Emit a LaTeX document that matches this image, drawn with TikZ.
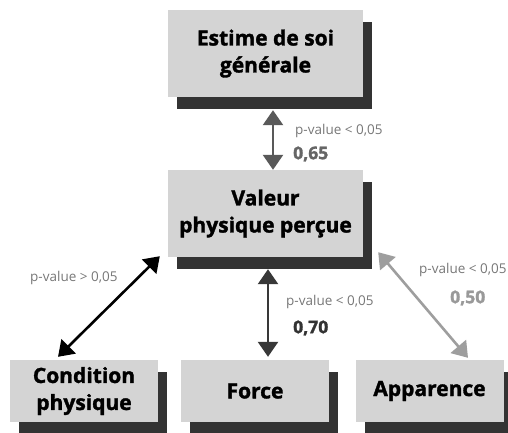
\documentclass[tikz,border=0pt]{standalone}
\usepackage{fontspec}
\setmainfont{Open Sans}[BoldFeatures={FakeBold=1.6}]
\usetikzlibrary{arrows.meta, positioning, shadows}
\definecolor{boxgray}{HTML}{D4D4D4}
\definecolor{shadowgray}{HTML}{333333}
\definecolor{labelgray}{HTML}{777777}

\begin{document}
\begin{tikzpicture}[
x=1pt, y=-1pt,
block/.style={rectangle, fill=boxgray, align=center, font=\fontsize{21}{27}\selectfont\bfseries, inner sep=0pt,
  drop shadow={shadow xshift=9pt, shadow yshift=-12pt, opacity=1, fill=shadowgray}},
bigblock/.style={block, minimum width=195pt, minimum height=87pt},
smallblock/.style={block, minimum width=148pt, minimum height=62pt},
link/.style={line width=2.6pt, {Triangle[width=20pt,length=15pt]}-{Triangle[width=20pt,length=15pt]}},
pval/.style={anchor=west, inner sep=0pt, text=labelgray, font=\fontsize{13.5}{15}\selectfont},
coef/.style={anchor=west, inner sep=0pt, font=\fontsize{17.5}{19}\selectfont\bfseries}
]
\useasboundingbox (0,0) rectangle (508,432);

\node (estime) [bigblock] at (265.5,53.5) {Estime de soi\\générale};
\node (valeur) [bigblock] at (265.5,213.5) {Valeur\\physique perçue};
\node (condition) [smallblock] at (84,391) {Condition\\physique};
\node (force) [smallblock] at (255,391) {Force};
\node (apparence) [smallblock] at (429.5,391) {Apparence};

\draw [link, draw=black!65] ([xshift=7.5pt, yshift=-13pt]estime.south) -- ([xshift=7.5pt]valeur.north);
\draw [link, draw=black] ([xshift=-8pt, yshift=1pt]valeur.south west) -- ([xshift=-26pt, yshift=3pt]condition.north);
\draw [link, draw=black!78] ([xshift=2.5pt, yshift=-12pt]valeur.south) -- ([xshift=13pt, yshift=3pt]force.north);
\draw [link, draw=black!38] ([xshift=15pt, yshift=5pt]valeur.south east) -- ([xshift=38.5pt, yshift=2pt]apparence.north);

\node (pv1) [pval] at (295,131) {p-value < 0,05};
\node (c1) [coef, text=black!60] at (293,154) {0,65};
\node (pv2) [pval] at (30,278) {p-value > 0,05};
\node (pv3) [pval] at (286,302) {p-value < 0,05};
\node (c3) [coef, text=black!80] at (293,328) {0,70};
\node (pv4) [pval] at (419,270) {p-value < 0,05};
\node (c4) [coef, text=black!40] at (450,298) {0,50};

\end{tikzpicture}
\end{document}
